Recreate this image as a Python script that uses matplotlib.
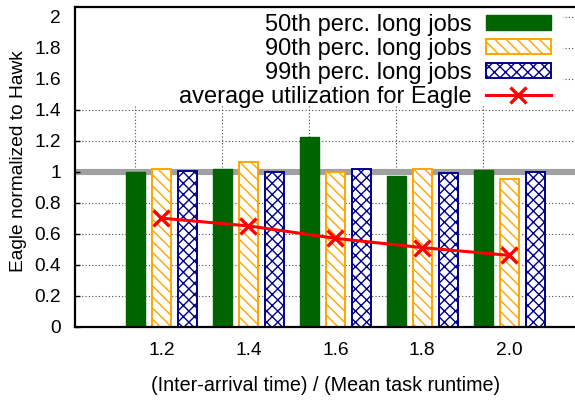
import matplotlib
matplotlib.use("Agg")
import matplotlib.pyplot as plt
import matplotlib.transforms as mtransforms
from matplotlib.patches import Rectangle
import numpy as np

plt.rcParams["font.family"] = ["Liberation Sans", "DejaVu Sans"]
plt.rcParams["hatch.linewidth"] = 1.0

# Data
ratios = ["1.2", "1.4", "1.6", "1.8", "2.0"]
p50_long = [1.00, 1.02, 1.225, 0.97, 1.01]
p90_long = [1.015, 1.065, 1.00, 1.015, 0.95]
p99_long = [1.005, 0.995, 1.015, 0.99, 0.995]
avg_util = [0.70, 0.65, 0.57, 0.51, 0.46]
y_ticks = [0, 0.2, 0.4, 0.6, 0.8, 1.0, 1.2, 1.4, 1.6, 1.8, 2.0]
y_tick_labels = ["0", "0.2", "0.4", "0.6", "0.8", "1", "1.2", "1.4", "1.6", "1.8", "2"]

GREEN = "#006400"
ORANGE = "#ffa500"
BLUE = "#00008b"
RED = "#ff0000"

fig = plt.figure(figsize=(5.75, 4.01), dpi=100)
ax = fig.add_axes([0.1296, 0.1853, 0.874, 0.7965])

x = np.arange(len(ratios))
off = 0.3
w = 0.22

# reference line at parity
ax.axhline(1.0, color="#a0a0a0", lw=4.4, zorder=1.0)

# dotted grid
for yv in y_ticks[1:]:
    ax.axhline(yv, color="0.3", lw=0.8, ls=(0, (1, 2)), zorder=0.5)
for xv in x - off:
    ax.axvline(xv, color="0.3", lw=0.8, ls=(0, (1, 2)), zorder=0.5)

b1 = ax.bar(x - off, p50_long, w, color=GREEN, edgecolor=GREEN, lw=1.0,
            zorder=2, label="50th perc. long jobs")
b2 = ax.bar(x, p90_long, w, facecolor="white", edgecolor=ORANGE, hatch="\\\\\\",
            lw=1.4, zorder=2, label="90th perc. long jobs")
b3 = ax.bar(x + off, p99_long, w, facecolor="white", edgecolor=BLUE, hatch="xxx",
            lw=1.4, zorder=2, label="99th perc. long jobs")
ln, = ax.plot(x, avg_util, color=RED, lw=2.2, marker="x", markersize=12,
              markeredgewidth=2.4, zorder=3, label="average utilization for Eagle")

ax.set_xlim(-1.0, 4.78)
ax.set_ylim(0, 2.06)

# blank area behind the key
trans = mtransforms.blended_transform_factory(ax.transAxes, ax.transData)
ax.add_patch(Rectangle((0, 1.43), 0.972, 1.0, transform=trans,
                       facecolor="white", edgecolor="none", zorder=1.6))

ax.set_yticks(y_ticks)
ax.set_yticklabels(y_tick_labels)
ax.set_xticks(x - off)
ax.set_xticklabels([])
ax.set_xticks(x, ratios, minor=True)

ax.tick_params(axis="y", which="major", direction="in", length=3.6, width=1.0,
               labelsize=13.8, pad=10, left=True, right=False)
ax.tick_params(axis="x", which="major", direction="in", length=3.6, width=1.0,
               top=True, bottom=False, labeltop=False, labelbottom=False)
ax.tick_params(axis="x", which="minor", length=0, top=False, bottom=True,
               labelbottom=True, labelsize=13.8, pad=11)

for s in ["left", "top", "bottom"]:
    ax.spines[s].set_linewidth(1.6)
ax.spines["right"].set_visible(False)

ax.set_xlabel("(Inter-arrival time) / (Mean task runtime)", fontsize=14.2)
ax.xaxis.set_label_coords(0.5, -0.154)
ax.set_ylabel("Eagle normalized to Hawk", fontsize=13.8)
ax.yaxis.set_label_coords(-0.094, 0.517)

leg = ax.legend(handles=[b1, b2, b3, ln], loc="upper right",
                bbox_to_anchor=(550.7 / 575, 387 / 401),
                bbox_transform=fig.transFigure, frameon=False,
                markerfirst=False, fontsize=17, handlelength=2.74,
                handleheight=0.56, handletextpad=0.6, labelspacing=0.08,
                borderpad=0, borderaxespad=0)
leg.set_zorder(5)

fig.savefig("out.png", dpi=100)
